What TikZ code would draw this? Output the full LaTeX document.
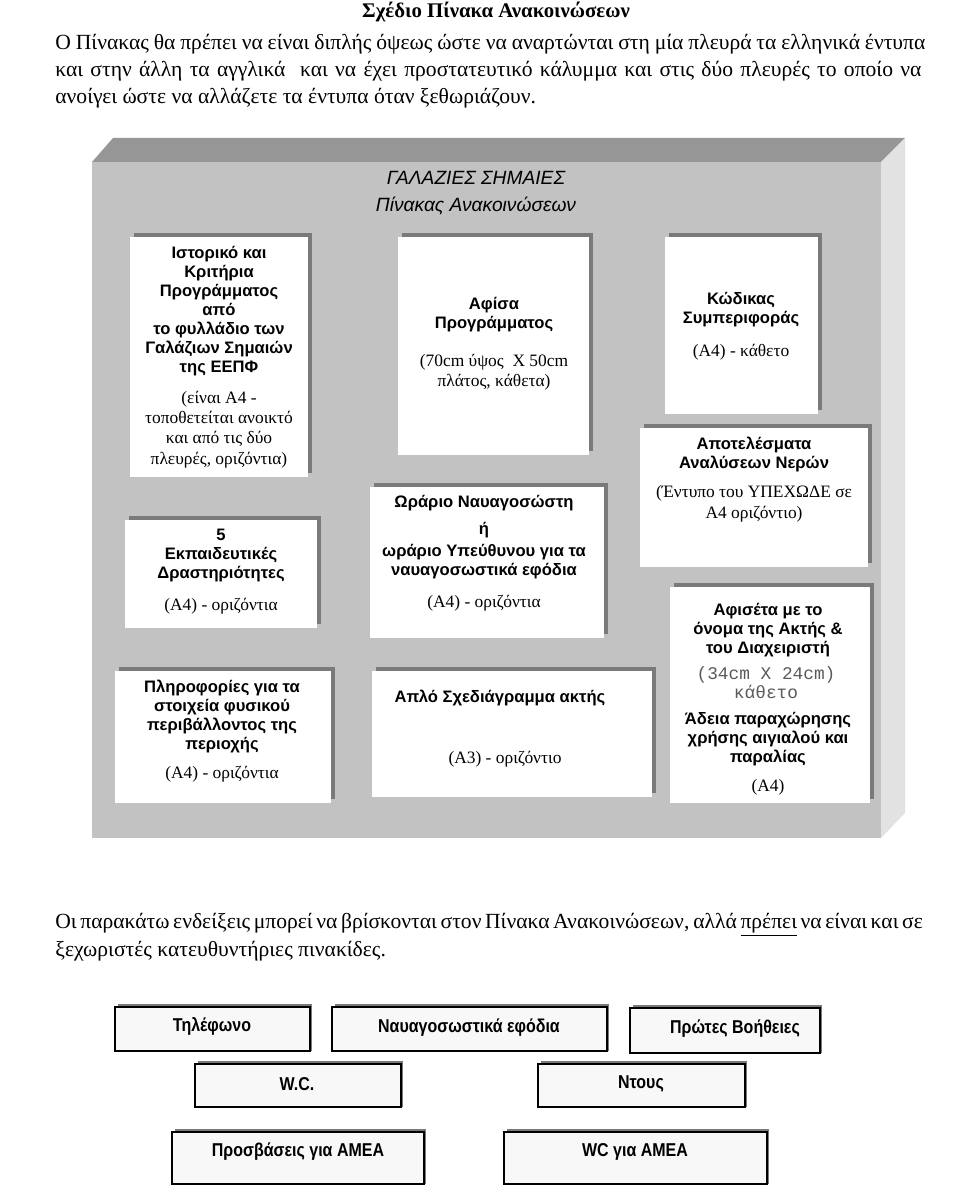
\documentclass[tikz,border=0pt]{standalone}
\usepackage{fontspec}
\setmainfont{Liberation Serif}
\newfontfamily\arialfont{Liberation Sans}
\newfontfamily\narrowfont[FakeStretch=0.86]{Liberation Sans}
\newfontfamily\courierfont{Liberation Mono}
\definecolor{boardfront}{HTML}{C2C2C2}
\definecolor{boardtop}{HTML}{969696}
\definecolor{boardside}{HTML}{E2E2E2}
\definecolor{postershade}{HTML}{7A7A7A}
\definecolor{signfill}{HTML}{F8F8F8}
\definecolor{monogray}{HTML}{5A5A5A}
\tikzset{
  bodytext/.style={anchor=west, inner sep=0pt, font=\fontsize{10.8}{13.5}\selectfont},
  boardhead/.style={align=center, inner sep=0pt, font=\arialfont\itshape\fontsize{9.6}{13.5}\selectfont},
  posterhead/.style={align=center, inner sep=0pt, font=\arialfont\bfseries\fontsize{8.3}{9.5}\selectfont},
  posternote/.style={align=center, inner sep=0pt, font=\fontsize{8.7}{10.2}\selectfont},
  postermono/.style={align=center, inner sep=0pt, text=monogray, font=\courierfont\fontsize{8.9}{9.5}\selectfont},
  signtext/.style={inner sep=0pt, font=\narrowfont\bfseries\fontsize{9.3}{10}\selectfont}
}
\begin{document}
\begin{tikzpicture}[x=0.5pt, y=-0.5pt]
\useasboundingbox (0,0) rectangle (960,1188);

\node[inner sep=0pt, font=\bfseries\fontsize{10.4}{13.5}\selectfont] (title) at (496,12) {Σχέδιο Πίνακα Ανακοινώσεων};
\node[bodytext] (introa) at (55,44) {\makebox[435pt][s]{Ο Πίνακας θα πρέπει να είναι διπλής όψεως ώστε να αναρτώνται στη μία πλευρά τα ελληνικά έντυπα}};
\node[bodytext] (introb) at (55,71) {\makebox[433pt][s]{και στην άλλη τα αγγλικά \ και να έχει προστατευτικό κάλυμμα και στις δύο πλευρές το οποίο να}};
\node[bodytext] (introc) at (55,98) {ανοίγει ώστε να αλλάζετε τα έντυπα όταν ξεθωριάζουν.};

% the board
\fill[boardtop] (92,162) -- (113,138) -- (905,138) -- (881,162) -- cycle;
\fill[boardside] (881,162) -- (905,138) -- (905,813) -- (881,838) -- cycle;
\fill[boardfront] (92,162) rectangle (881,838);

\foreach \xa/\ya/\xb/\yb in {130/237/308/477, 398/237/589/455, 665/237/818/414,
    640/428/868/567, 125/520/317/628, 115/671/331/803, 370/487/604/638,
    372/671/652/797, 670/587/870/803}{
  \fill[postershade] (\xa+4,\ya-4) rectangle (\xb+4,\yb-4);
  \fill[white] (\xa,\ya) rectangle (\xb,\yb);
}

\node[boardhead] (board) at (476,193.5) {ΓΑΛΑΖΙΕΣ ΣΗΜΑΙΕΣ\\Πίνακας Ανακοινώσεων};

\node[posterhead] (history) at (219,311) {Ιστορικό και\\Κριτήρια\\Προγράμματος\\από\\το φυλλάδιο των\\Γαλάζιων Σημαιών\\της ΕΕΠΦ};
\node[posternote] (historynote) at (219,429.5) {(είναι Α4 -\\τοποθετείται ανοικτό\\και από τις δύο\\πλευρές, οριζόντια)};

\node[posterhead] (poster) at (494,315) {Αφίσα\\Προγράμματος};
\node[posternote] (posternote) at (494,372.5) {(70cm ύψος \ Χ 50cm\\πλάτος, κάθετα)};

\node[posterhead] (code) at (741,310) {Κώδικας\\Συμπεριφοράς};
\node[posternote] (codenote) at (741,352) {(Α4) - κάθετο};

\node[posterhead] (water) at (754,454) {Αποτελέσματα\\Αναλύσεων Νερών};
\node[posternote] (waternote) at (754,504) {(Έντυπο του ΥΠΕΧΩΔΕ σε\\Α4 οριζόντιο)};

\node[posterhead] (activities) at (221,555.5) {5\\Εκπαιδευτικές\\Δραστηριότητες};
\node[posternote] (activitiesnote) at (221,606) {(Α4) - οριζόντια};

\node[posterhead] (nature) at (222,716) {Πληροφορίες για τα\\στοιχεία φυσικού\\περιβάλλοντος της\\περιοχής};
\node[posternote] (naturenote) at (222,774) {(Α4) - οριζόντια};

\node[posterhead] (lifeguard) at (484,503) {Ωράριο Ναυαγοσώστη};
\node[posterhead] (lifeguardor) at (484,530) {ή};
\node[posterhead] (lifeguardalt) at (484,562) {ωράριο Υπεύθυνου για τα\\ναυαγοσωστικά εφόδια};
\node[posternote] (lifeguardnote) at (484,603) {(Α4) - οριζόντια};

\node[posterhead] (sketch) at (500,698) {Απλό Σχεδιάγραμμα ακτής};
\node[posternote] (sketchnote) at (505,759) {(Α3) - οριζόντιο};

\node[posterhead] (beach) at (768,630) {Αφισέτα με το\\όνομα της Ακτής \&\\του Διαχειριστή};
\node[postermono] (beachsize) at (766,682.5) {(34cm X 24cm)\\κάθετο};
\node[posterhead] (permit) at (768,739.5) {Άδεια παραχώρησης\\χρήσης αιγιαλού και\\παραλίας};
\node[posternote] (permitnote) at (768,787) {(Α4)};

\node[bodytext] (signsa) at (55,925) {\makebox[433.5pt][s]{Οι παρακάτω ενδείξεις μπορεί να βρίσκονται στον Πίνακα Ανακοινώσεων, αλλά \underline{πρέπει} να είναι και σε}};
\node[bodytext] (signsb) at (55,951) {ξεχωριστές κατευθυντήριες πινακίδες.};

% separate signs
\foreach \xa/\ya/\xb/\yb in {115/1007/310/1051, 332/1007/607/1051, 630/1008/820/1053,
    195/1064/401/1107, 538/1064/745/1107, 172/1132/424/1184, 504/1132/767/1184}{
  \fill[postershade] (\xa+3,\ya-3) rectangle (\xb+2,\yb);
  \draw[black, thick, fill=signfill] (\xa,\ya) rectangle (\xb,\yb);
}
\node[signtext] (phone) at (212,1026) {Τηλέφωνο};
\node[signtext] (gear) at (469,1028) {Ναυαγοσωστικά εφόδια};
\node[signtext] (firstaid) at (735,1029) {Πρώτες Βοήθειες};
\node[signtext] (toilet) at (297,1084) {W.C.};
\node[signtext] (shower) at (641,1084) {Ντους};
\node[signtext] (access) at (298,1152) {Προσβάσεις για ΑΜΕΑ};
\node[signtext] (toiletaccess) at (635,1152) {WC για ΑΜΕΑ};
\end{tikzpicture}
\end{document}
